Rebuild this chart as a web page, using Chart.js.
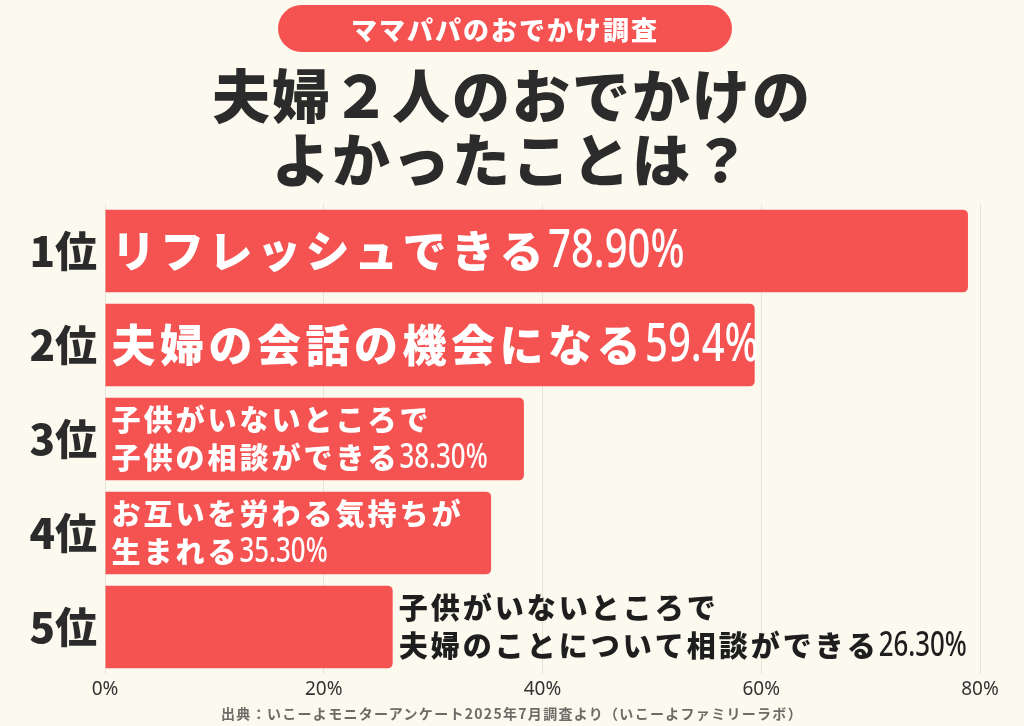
<!DOCTYPE html>
<html lang="ja">
<head>
<meta charset="utf-8">
<script src="https://cdn.jsdelivr.net/npm/chart.js@4.4.1/dist/chart.umd.min.js"></script>
<style>
  html, body { margin: 0; padding: 0; background: #fcf9ee; }
  #wrap { position: relative; width: 1024px; height: 726px; overflow: hidden; background: #fcf9ee; font-family: "Noto Sans CJK JP", sans-serif; }
  #c { position: absolute; left: 0; top: 0; }
  .pill { position: absolute; left: 278px; top: 5px; width: 454px; height: 47px; border-radius: 24px; background: #f55352; color: #fff; font-weight: 900; font-size: 26px; letter-spacing: 2px; text-align: center; line-height: 47px; }
  .title { position: absolute; left: 0; width: 1024px; text-align: center; color: #2b2b2b; font-weight: 900; font-size: 58px; letter-spacing: 2px; line-height: 1; }
  .foot { position: absolute; left: 0; width: 1024px; top: 703px; text-align: center; color: #6e6a66; font-weight: 700; font-size: 14px; letter-spacing: 1.3px; line-height: 20px; }
</style>
</head>
<body>
<div id="wrap">
  <canvas id="c" width="1024" height="726"></canvas>
  <div class="pill">ママパパのおでかけ調査</div>
  <div class="title" style="top:64px;">夫婦２人のおでかけの</div>
  <div class="title" style="top:128px;">よかったことは？</div>
  <div class="foot">出典：いこーよモニターアンケート2025年7月調査より（いこーよファミリーラボ）</div>
</div>
<script>
// ---- data ----
const ranks = ["1位", "2位", "3位", "4位", "5位"];
const values = [78.9, 59.4, 38.3, 35.3, 26.3];
const pctLabels = ["78.90%", "59.4%", "38.30%", "35.30%", "26.30%"];
const itemLines = [
  ["リフレッシュできる"],
  ["夫婦の会話の機会になる"],
  ["子供がいないところで", "子供の相談ができる"],
  ["お互いを労わる気持ちが", "生まれる"],
  ["子供がいないところで", "夫婦のことについて相談ができる"]
];
const xTicks = [0, 20, 40, 60, 80];

const RED = "#f55352";
const DARK = "#2b2b2b";
const JP = "'Noto Sans CJK JP', sans-serif";
const NUM = "'Noto Sans', 'DejaVu Sans', sans-serif";

const labelPlugin = {
  id: "barLabels",
  afterDatasetsDraw(chart) {
    const ctx = chart.ctx;
    const meta = chart.getDatasetMeta(0);
    meta.data.forEach((bar, i) => {
      const lines = itemLines[i];
      const single = lines.length === 1;
      const inside = values[i] >= 30;
      const jpSize = single ? 44 : 29;
      const jpSpacing = single ? 4.5 : 3;
      const numSize = single ? 52 : 34;
      const squeeze = single ? 0.77 : 0.76;
      const gap = single ? 0 : 38;
      const x0 = inside ? bar.base + 6 : bar.x + 6;
      const color = inside ? "#ffffff" : "#1e1e1e";
      ctx.save();
      ctx.fillStyle = color;
      ctx.textBaseline = "middle";
      ctx.textAlign = "left";
      lines.forEach((ln, k) => {
        const y = bar.y + (k - (lines.length - 1) / 2) * gap;
        ctx.font = "900 " + jpSize + "px " + JP;
        ctx.letterSpacing = jpSpacing + "px";
        ctx.fillText(ln, x0, y);
        if (k === lines.length - 1) {
          const w = ctx.measureText(ln).width;
          ctx.font = "500 " + numSize + "px " + NUM;
          ctx.letterSpacing = "0px";
          ctx.save();
          ctx.translate(x0 + w, y + (single ? 1 : 0));
          ctx.scale(squeeze, 1);
          ctx.fillText(pctLabels[i], 0, 0);
          ctx.restore();
        }
      });
      ctx.restore();
    });
  }
};

new Chart(document.getElementById("c"), {
  type: "bar",
  data: {
    labels: ranks,
    datasets: [{
      data: values,
      backgroundColor: RED,
      borderRadius: 5,
      borderSkipped: "start",
      categoryPercentage: 1,
      barPercentage: 0.88
    }]
  },
  options: {
    indexAxis: "y",
    responsive: false,
    animation: false,
    devicePixelRatio: 1,
    layout: { padding: { top: 204, right: 44, bottom: 26, left: 0 } },
    plugins: { legend: { display: false }, tooltip: { enabled: false }, title: { display: false } },
    scales: {
      x: {
        min: 0, max: 80,
        afterBuildTicks: (s) => { s.ticks = xTicks.map(v => ({ value: v })); },
        afterFit: (s) => { s.height = 26; },
        ticks: { callback: (v) => v + "%", color: "#333", font: { family: "'Noto Sans', sans-serif", size: 19 }, padding: 4 },
        grid: { color: "#e7e3d8", drawTicks: false, lineWidth: 1 },
        border: { display: false }
      },
      y: {
        afterFit: (s) => { s.width = 105; },
        ticks: { color: DARK, font: { family: JP, size: 42, weight: "900" }, padding: 8 },
        grid: { display: false, drawTicks: false },
        border: { display: false }
      }
    }
  },
  plugins: [labelPlugin]
});
</script>
</body>
</html>
